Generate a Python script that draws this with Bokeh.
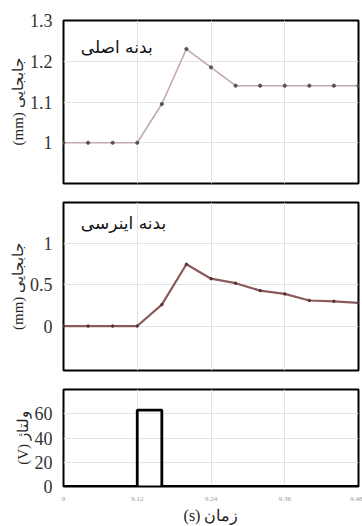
from bokeh.plotting import figure
from bokeh.layouts import column
from bokeh.models import FixedTicker, Label, Range1d
from bokeh.embed import file_html
from bokeh.resources import INLINE

# ---- data ----
t = [9.00, 9.04, 9.08, 9.12, 9.16, 9.20, 9.24, 9.28, 9.32, 9.36, 9.40, 9.44, 9.48]
main_body = [1.0, 1.0, 1.0, 1.0, 1.095, 1.23, 1.185, 1.14, 1.14, 1.14, 1.14, 1.14, 1.14]
inertial_body = [0.0, 0.0, 0.0, 0.0, 0.26, 0.75, 0.575, 0.52, 0.43, 0.39, 0.31, 0.30, 0.28]
volt_t = [9.00, 9.12, 9.12, 9.16, 9.16, 9.48]
volt_v = [0, 0, 63, 63, 0, 0]

x_ticks = [9.0, 9.12, 9.24, 9.36, 9.48]
y1_ticks = [1.0, 1.1, 1.2, 1.3]
y2_ticks = [0.0, 0.5, 1.0]
y3_ticks = [0, 20, 40, 60]

title1 = "بدنه اصلی"
title2 = "بدنه اینرسی"
ylab_disp = "(mm) جابجایی"
ylab_volt = "(V) ولتاژ"
xlab = "(s) زمان"

W = 362
SERIF = "Liberation Serif"


def style(p, yticks, show_x):
    p.outline_line_color = "black"
    p.outline_line_width = 2
    p.outline_line_alpha = 1
    p.background_fill_color = "white"
    p.border_fill_color = "white"
    p.xaxis.ticker = FixedTicker(ticks=x_ticks)
    p.yaxis.ticker = FixedTicker(ticks=yticks)
    for ax in (p.xaxis[0], p.yaxis[0]):
        ax.axis_line_color = None
        ax.major_tick_line_color = None
        ax.minor_tick_line_color = None
        ax.major_label_text_font = SERIF
        ax.axis_label_text_font = SERIF
    p.yaxis.major_label_text_font_size = "18px"
    p.yaxis.major_label_text_color = "#333333"
    p.yaxis.major_label_standoff = 5
    p.yaxis.axis_label_text_font_size = "15px"
    p.yaxis.axis_label_text_font_style = "normal"
    p.yaxis.axis_label_text_color = "#222222"
    p.yaxis.axis_label_standoff = 1
    p.xgrid.grid_line_color = "#e4e4e4"
    p.ygrid.grid_line_color = "#e4e4e4"
    p.xgrid.grid_line_width = 1
    p.ygrid.grid_line_width = 1
    if show_x:
        p.xaxis.major_label_text_font_size = "7px"
        p.xaxis.major_label_text_color = "#999999"
        p.xaxis.major_label_standoff = 4
        p.xaxis.axis_label_text_font_size = "16px"
        p.xaxis.axis_label_text_font_style = "normal"
        p.xaxis.axis_label_text_color = "#222222"
        p.xaxis.axis_label_standoff = 3
    else:
        p.xaxis.visible = False


# ---- panel 1 ----
p1 = figure(width=W, height=192, output_backend="svg", toolbar_location=None,
            x_range=Range1d(9.0, 9.48), y_range=Range1d(0.9, 1.3),
            min_border_left=63, min_border_right=4, min_border_top=20, min_border_bottom=9)
style(p1, y1_ticks, False)
p1.yaxis.axis_label = ylab_disp
p1.line(t, main_body, line_color="#c4a9a9", line_width=1.6)
p1.scatter(t, main_body, size=3.2, color="#555555")
p1.add_layout(Label(x=9.145, y=1.235, text=title1, text_align="right", text_baseline="middle",
                    text_font="DejaVu Sans", text_font_size="17px", text_color="#111111"))

# ---- panel 2 ----
p2 = figure(width=W, height=188, output_backend="svg", toolbar_location=None,
            x_range=p1.x_range, y_range=Range1d(-0.54, 1.5),
            min_border_left=63, min_border_right=4, min_border_top=10, min_border_bottom=10)
style(p2, y2_ticks, False)
p2.yaxis.axis_label = ylab_disp
p2.line(t, inertial_body, line_color="#8c5a5a", line_width=2.2)
p2.scatter(t, inertial_body, size=2.5, color="#553333")
p2.add_layout(Label(x=9.167, y=1.25, text=title2, text_align="right", text_baseline="middle",
                    text_font="DejaVu Sans", text_font_size="17px", text_color="#111111"))

# ---- panel 3 ----
p3 = figure(width=W, height=146, output_backend="svg", toolbar_location=None,
            x_range=p1.x_range, y_range=Range1d(0, 80),
            min_border_left=63, min_border_right=4, min_border_top=9, min_border_bottom=38)
style(p3, y3_ticks, True)
p3.yaxis.axis_label = ylab_volt
p3.xaxis.axis_label = xlab
p3.line(volt_t, volt_v, line_color="black", line_width=2.8)

layout = column(p1, p2, p3, spacing=0)

open("out.html", "w").write(file_html(layout, INLINE))
